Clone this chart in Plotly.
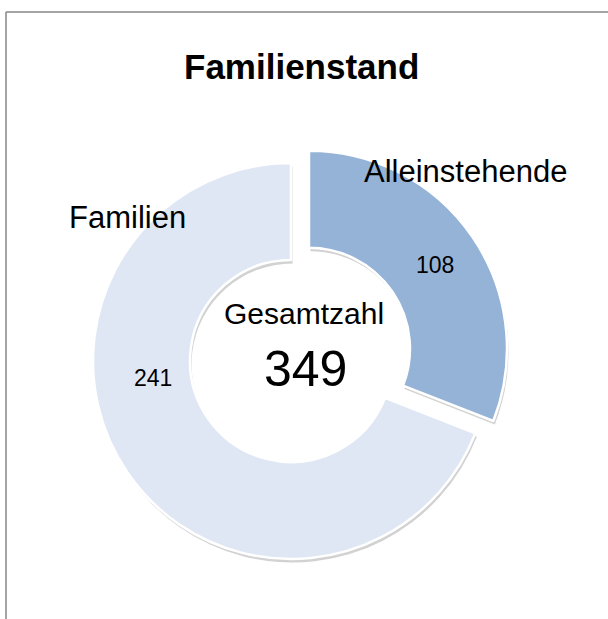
import plotly.graph_objects as go

categories = ["Alleinstehende", "Familien"]
values = [108, 241]
colors = ["#95B3D7", "#DFE7F4"]
title_text = "Familienstand"
center_label = "Gesamtzahl"
total = sum(values)

W, H = 608, 619

def px(x):
    return x / W

def py(y):
    return 1 - y / H

CX, CY, R, PULL = 291, 361, 198, 0.11
HALF = R * (1 + PULL)

def pie(dx, dy, cols, line_col, opacity):
    return go.Pie(
        labels=categories,
        values=values,
        sort=False,
        direction="clockwise",
        rotation=0,
        hole=0.51,
        pull=[PULL, 0],
        marker=dict(colors=cols, line=dict(color=line_col, width=2.5)),
        textinfo="none",
        hoverinfo="label+value" if opacity == 1 else "skip",
        showlegend=False,
        opacity=opacity,
        domain=dict(x=[px(CX - HALF + dx), px(CX + HALF + dx)],
                    y=[py(CY + HALF + dy), py(CY - HALF + dy)]),
    )

fig = go.Figure()
# soft drop shadow
fig.add_trace(pie(1.5, 3.5, ["#7f7f7f", "#7f7f7f"], "rgba(0,0,0,0)", 0.35))
fig.add_trace(pie(0, 0, colors, "white", 1))

font = "Liberation Sans, Arial, sans-serif"
name_pos = [(465, 171), (127, 217)]
value_pos = [(435, 265), (153, 378)]

ann = []
ann.append(dict(text="<b>%s</b>" % title_text, x=px(301), y=py(66),
                font=dict(size=35, family=font, color="black")))
for i, c in enumerate(categories):
    ann.append(dict(text=c, x=px(name_pos[i][0]), y=py(name_pos[i][1]),
                    font=dict(size=31, family=font, color="black")))
    ann.append(dict(text=str(values[i]), x=px(value_pos[i][0]), y=py(value_pos[i][1]),
                    font=dict(size=23, family=font, color="black")))
ann.append(dict(text=center_label, x=px(304), y=py(313),
                font=dict(size=30, family=font, color="black")))
ann.append(dict(text=str(total), x=px(305), y=py(369),
                font=dict(size=50, family=font, color="black")))
for a in ann:
    a.update(xref="paper", yref="paper", showarrow=False,
             xanchor="center", yanchor="middle")

fig.update_layout(
    width=W, height=H,
    margin=dict(l=0, r=0, t=0, b=0),
    paper_bgcolor="white",
    plot_bgcolor="white",
    annotations=ann,
    shapes=[
        dict(type="line", xref="paper", yref="paper",
             x0=px(6), x1=px(6), y0=0, y1=py(12),
             line=dict(color="#868686", width=1.5)),
        dict(type="line", xref="paper", yref="paper",
             x0=px(6), x1=1, y0=py(12), y1=py(12),
             line=dict(color="#868686", width=1.5)),
    ],
)

fig.write_html("out.html")
